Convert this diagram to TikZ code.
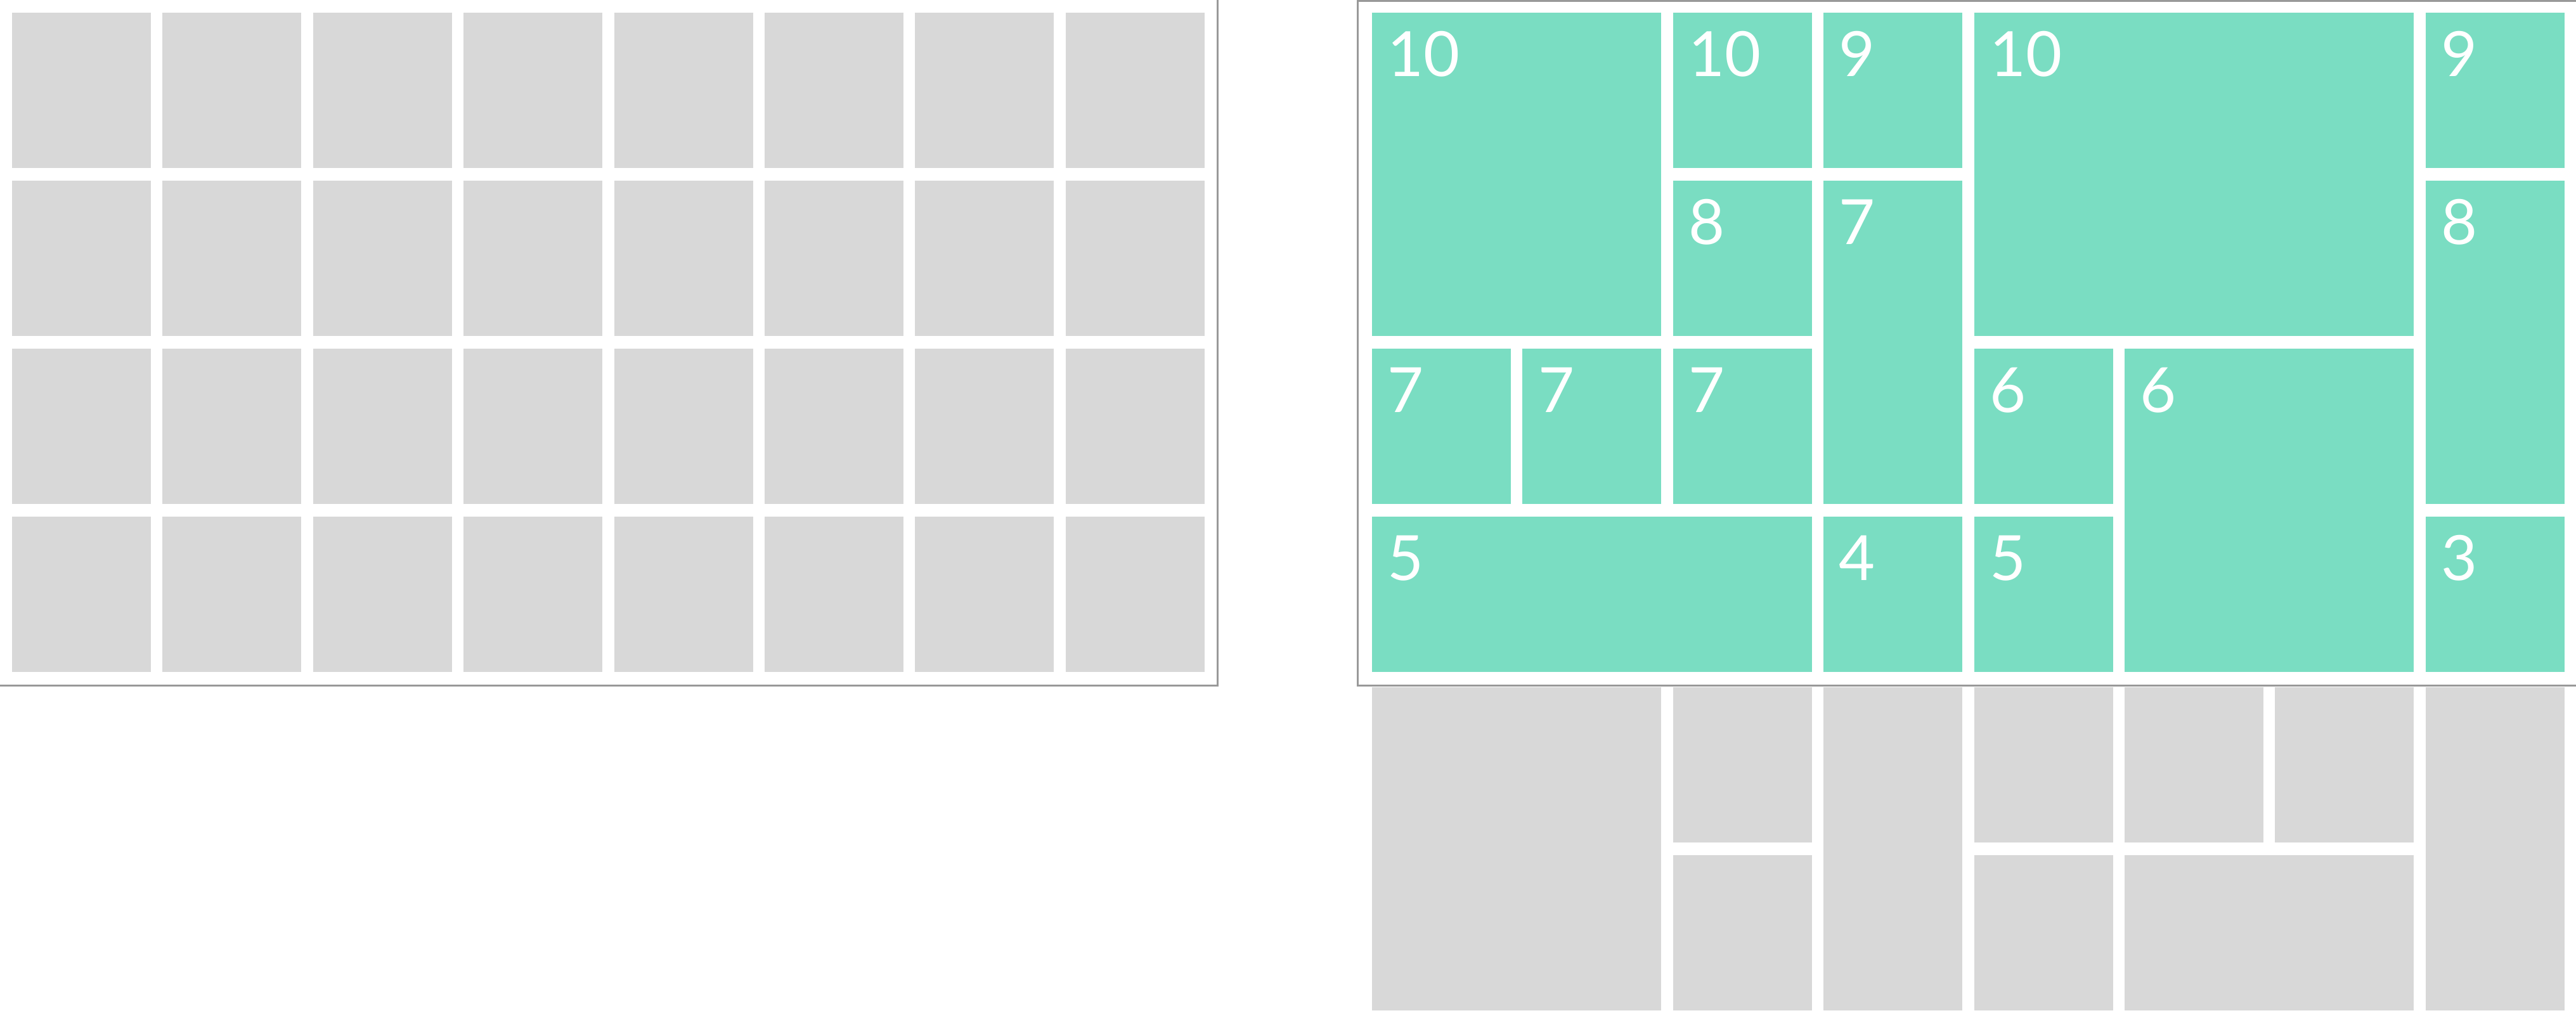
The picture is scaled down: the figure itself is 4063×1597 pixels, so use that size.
\documentclass[tikz,border=0pt]{standalone}
\usepackage{fontspec}
\setmainfont{Lato}
\usetikzlibrary{positioning}
\definecolor{tilegray}{RGB}{216,216,216}
\definecolor{tileteal}{RGB}{122,221,194}
\definecolor{framegray}{RGB}{153,153,153}

% one tile of the grid: name, style, x origin, column, row, columns, rows
% (rows below the window sit a little lower)
\newcommand{\tile}[7]{%
  \node[#2, minimum width={(#6-1)*23.74mm+21.9mm},
        minimum height={(#7-1)*26.5mm+24.5mm}]
    (#1) at ({#3+#4*237.4}, {20+#5*265+(#5>3)*4}) {};}

\begin{document}
\begin{tikzpicture}[x=0.1mm, y=-0.1mm,
  cell/.style={inner sep=0pt, outer sep=0pt, anchor=north west},
  free/.style={cell, fill=tilegray},
  busy/.style={cell, fill=tileteal},
  num/.style={inner sep=0pt, anchor=base west, text=white,
              font=\fontsize{28}{30}\selectfont},
  frame/.style={draw=framegray, line width=0.3mm},
  ]

\useasboundingbox (0,0) rectangle (4063,1597);

% Origins of the two panels
\def\lx{19}
\def\rx{2164}

% ======================================================================
% LEFT: empty 8 x 4 grid
% ======================================================================
\foreach \c in {0,...,7} {
  \foreach \r in {0,...,3} {
    \tile{g-\c-\r}{free}{\lx}{\c}{\r}{1}{1}
  }
}
\draw[frame] (-10,-10) rectangle (1920,1081);

% ======================================================================
% RIGHT: free tiles below the window
% ======================================================================
\foreach \n/\c/\r/\w/\h in {a/0/4/2/2, b/2/4/1/1, c/2/5/1/1, d/3/4/1/2,
                            e/4/4/1/1, f/5/4/1/1, g/6/4/1/1, h/4/5/1/1,
                            i/5/5/2/1, j/7/4/1/2} {
  \tile{f\n}{free}{\rx}{\c}{\r}{\w}{\h}
}

% ======================================================================
% RIGHT: packed tiles with their weights
% ======================================================================
\foreach \n/\c/\r/\w/\h/\t in {A/0/0/2/2/10, B/2/0/1/1/10, C/3/0/1/1/9,
                               D/4/0/3/2/10, E/7/0/1/1/9, F/2/1/1/1/8,
                               G/3/1/1/2/7, H/7/1/1/2/8, I/0/2/1/1/7,
                               J/1/2/1/1/7, K/2/2/1/1/7, L/4/2/1/1/6,
                               M/5/2/2/2/6, N/0/3/3/1/5, O/3/3/1/1/4,
                               P/4/3/1/1/5, Q/7/3/1/1/3} {
  \tile{t\n}{busy}{\rx}{\c}{\r}{\w}{\h}
  \node[num] (n\n) at ([xshift=2.4mm, yshift=-10mm]t\n.north west) {\t};
}

\draw[frame] (2141,1.5) rectangle (4100,1081);

\end{tikzpicture}
\end{document}
